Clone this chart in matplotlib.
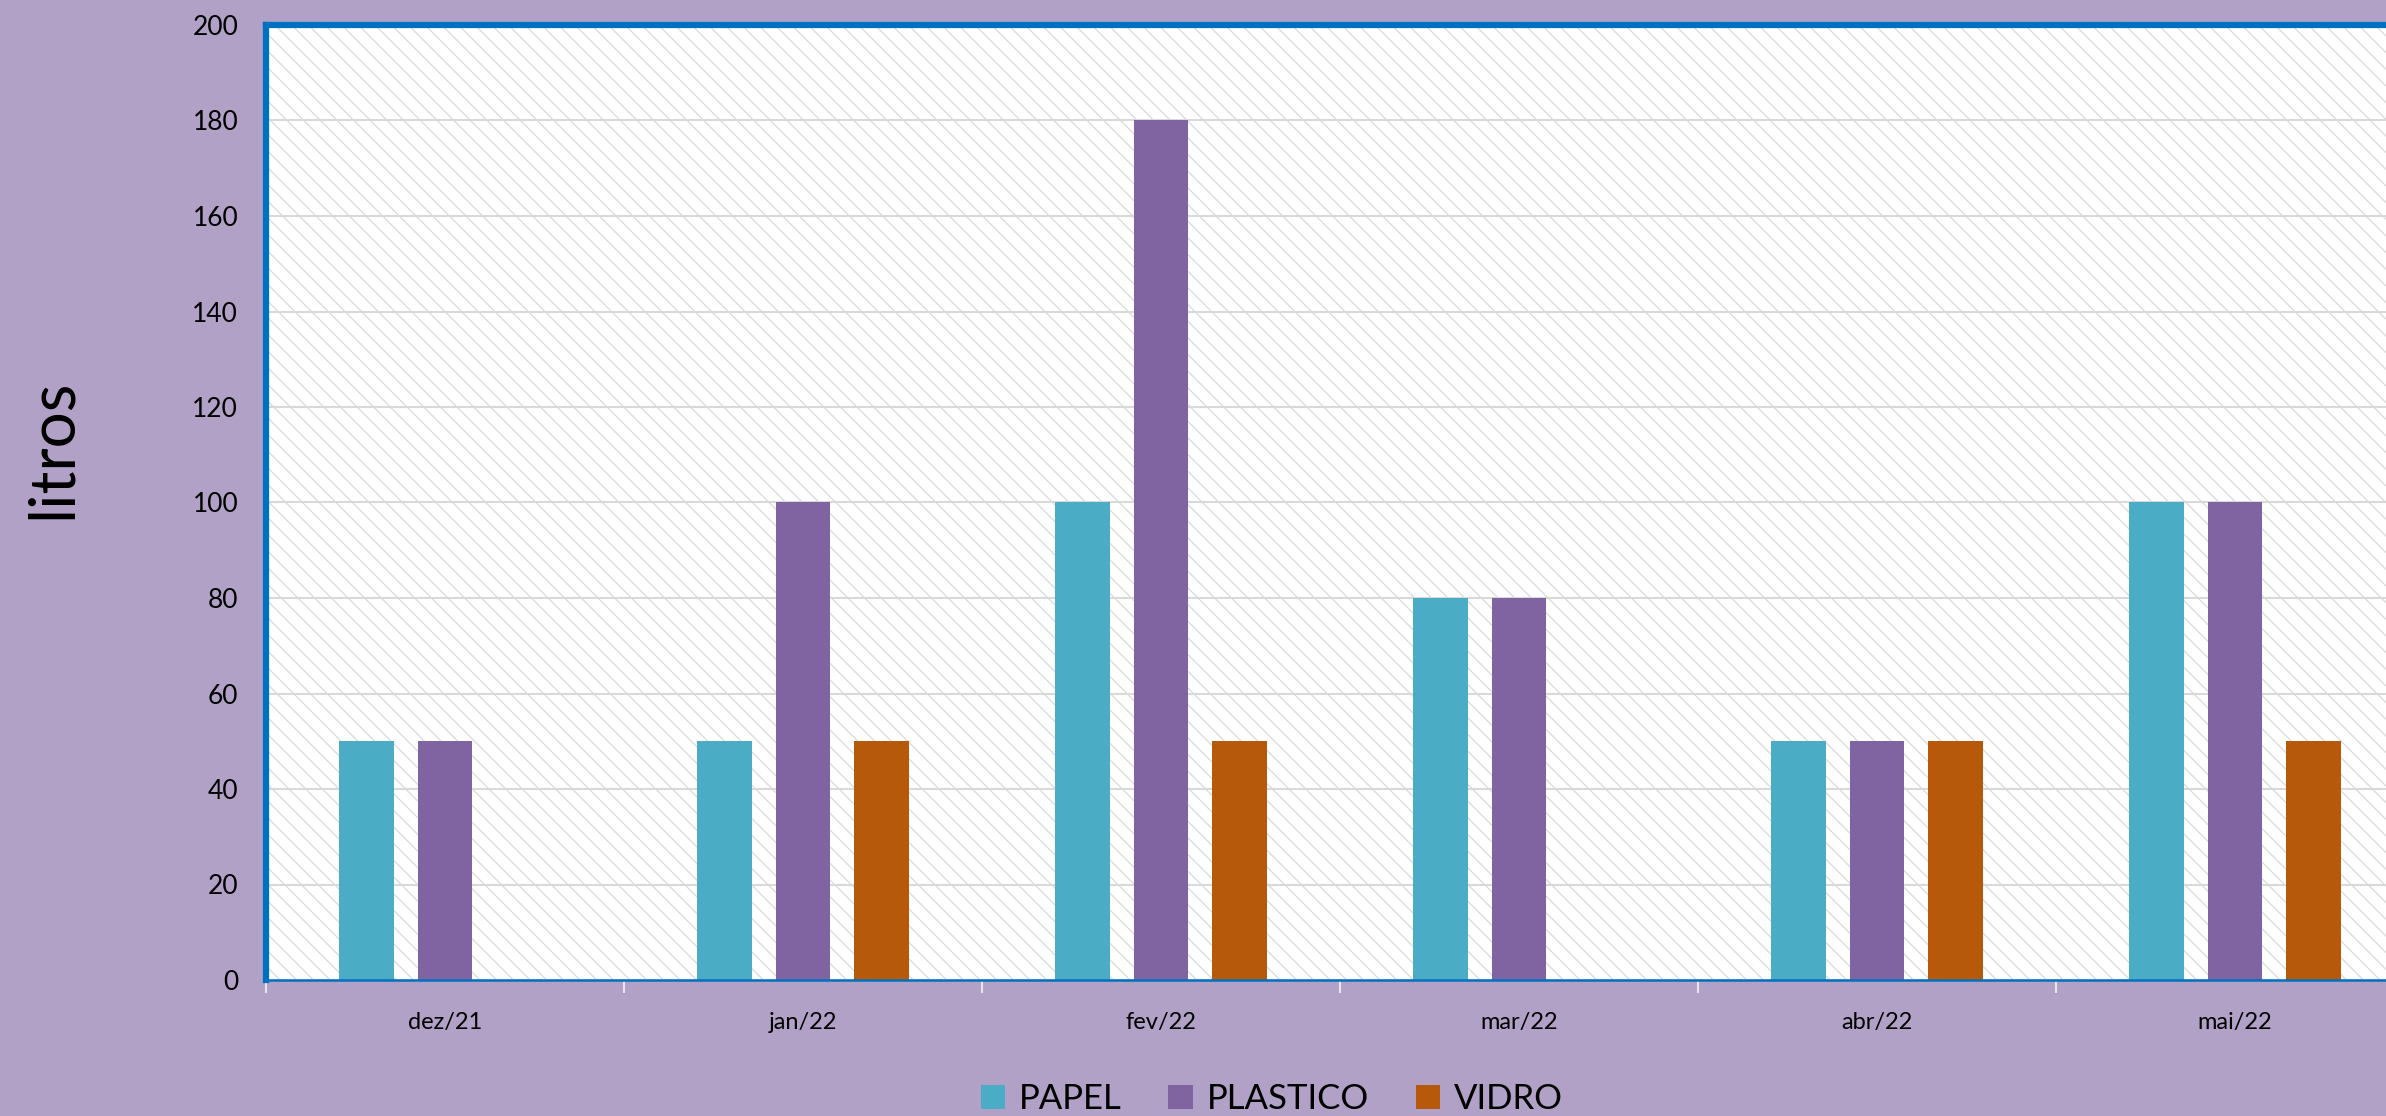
"""
Monthly recycling volumes (litros) by material, grouped bar chart.
"""
import matplotlib
matplotlib.use("Agg")
import matplotlib.pyplot as plt
from matplotlib.patches import Rectangle, Patch
import numpy as np

months = ["dez/21", "jan/22", "fev/22", "mar/22", "abr/22", "mai/22"]
papel = [50, 50, 100, 80, 50, 100]
plastico = [50, 100, 180, 80, 50, 100]
vidro = [0, 50, 50, 0, 50, 50]

series_names = ["PAPEL", "PLASTICO", "VIDRO"]
series_colors = ["#4BACC6", "#8064A2", "#B7590A"]
y_ticks = list(range(0, 201, 20))

BG = "#B1A1C7"
BORDER = "#0070C0"

plt.rcParams["font.family"] = ["Lato", "DejaVu Sans"]
plt.rcParams["hatch.linewidth"] = 0.9

fig = plt.figure(figsize=(23.86, 11.16), dpi=100, facecolor=BG)
# plot area runs past the right edge of the picture, as in the original
ax = fig.add_axes([266 / 2386, 136 / 1116, 2148 / 2386, 955 / 1116])
ax.set_facecolor("white")

# hatched background of the plot area
ax.add_patch(Rectangle((0, 0), 1, 1, transform=ax.transAxes, facecolor="white",
                       edgecolor="#DADADA", hatch="\\\\", linewidth=0, zorder=0.1))

x = np.arange(len(months))
width = 0.153
offset = 0.219
for i, (vals, name, color) in enumerate(zip([papel, plastico, vidro], series_names, series_colors)):
    ax.bar(x + (i - 1) * offset, vals, width=width, color=color, label=name, zorder=2)

ax.set_xlim(-0.5, len(months) - 0.5)
ax.set_ylim(0, 200)
ax.set_yticks(y_ticks)
ax.yaxis.grid(True, color="#D9D9D9", linewidth=1.5)
ax.set_axisbelow(True)
ax.tick_params(axis="y", length=0, pad=20, labelsize=19)

# category boundaries as ticks, labels centred on categories
ax.set_xticks(np.arange(-0.5, len(months), 1.0))
ax.set_xticklabels([])
ax.set_xticks(x, minor=True)
ax.set_xticklabels(months, minor=True)
ax.tick_params(axis="x", which="major", length=9, width=1.5, color="#E6E6E6", direction="out")
ax.tick_params(axis="x", which="minor", length=0, pad=23, labelsize=17)

for side in ["left", "top"]:
    ax.spines[side].set_color(BORDER)
    ax.spines[side].set_linewidth(4.5)
ax.spines["bottom"].set_color(BORDER)
ax.spines["bottom"].set_linewidth(1.8)
ax.spines["right"].set_visible(False)

# axis title sits above the middle of the axis in the original
fig.text(0.022, 0.598, "litros", rotation=90, fontsize=46, ha="center", va="center")

handles = [Patch(facecolor=c, label=n) for n, c in zip(series_names, series_colors)]
fig.legend(handles=handles, loc="center", bbox_to_anchor=(0.533, 0.015), ncol=3,
           frameon=False, fontsize=25, handlelength=0.7, handleheight=0.7,
           handletextpad=0.4, columnspacing=1.35)

fig.savefig("out.png", dpi=100, facecolor=BG)
